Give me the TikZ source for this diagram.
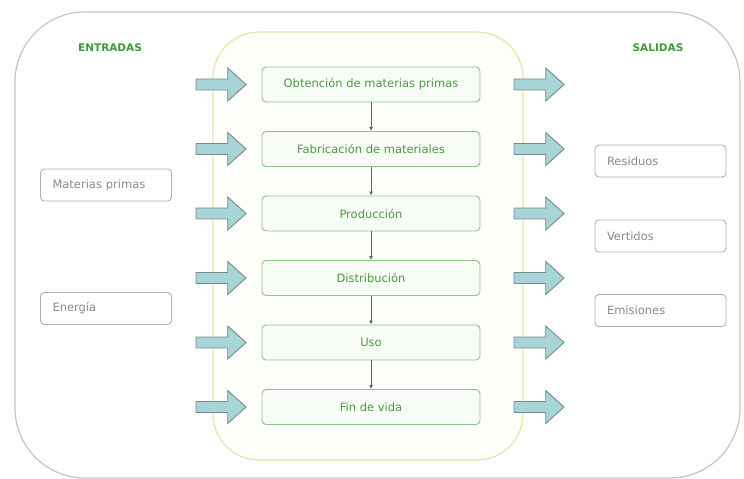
\documentclass[tikz,border=0pt]{standalone}
\usepackage{fontspec}
\setmainfont{DejaVu Sans}
\usetikzlibrary{arrows.meta,positioning,shapes.arrows}

\definecolor{frameline}{HTML}{C4C4C4}
\definecolor{coreline}{HTML}{E4E6A8}
\definecolor{corefill}{HTML}{FFFFFB}
\definecolor{stageline}{HTML}{8CC48C}
\definecolor{stagefill}{HTML}{F8FCF6}
\definecolor{stagetext}{HTML}{4E9A44}
\definecolor{sideline}{HTML}{B0B0B0}
\definecolor{sidetext}{HTML}{8A8A8A}
\definecolor{flowfill}{HTML}{A9D4D7}
\definecolor{flowline}{HTML}{6F8C8E}
\definecolor{titlegreen}{HTML}{3E9A3A}

\begin{document}
\begin{tikzpicture}[x=1pt, y=-1pt,
    frame/.style={draw=frameline, line width=1.2pt, rounded corners=70pt},
    core/.style={draw=coreline, fill=corefill, line width=1.2pt, rounded corners=46pt},
    stage/.style={draw=stageline, fill=stagefill, rounded corners=4pt, line width=0.9pt, minimum width=218pt, minimum height=35pt, text=stagetext, font=\fontsize{11.5}{13}\selectfont},
    side/.style={draw=sideline, fill=white, rounded corners=4pt, line width=0.9pt, inner xsep=12pt, text width=107pt, minimum height=32pt, align=left, text=sidetext, font=\fontsize{11.5}{13}\selectfont},
    flow/.style={single arrow, draw=flowline, fill=flowfill, line width=0.9pt, inner xsep=0pt, inner ysep=5pt, minimum height=50pt, minimum width=33pt, single arrow head extend=11pt, single arrow tip angle=84},
    title/.style={text=titlegreen, font=\fontsize{10.5}{12}\selectfont\bfseries},
    arr/.style={-{Latex[length=4pt,width=4pt]}, draw=black!60, line width=1pt}
]
\useasboundingbox (0,0) rectangle (744,479);
\node[frame, minimum width=725pt, minimum height=466pt] (all) at (377.5,245) {};
\node[core, minimum width=310pt, minimum height=428pt] (cycle) at (368,246) {};
\node[title] (inputs) at (110,48) {ENTRADAS};
\node[title] (outputs) at (658,48) {SALIDAS};
% etapas del ciclo de vida
\node[stage] (raw) at (371,84.5) {Obtención de materias primas};
\node[stage] (make) at (371,149) {Fabricación de materiales};
\node[stage] (prod) at (371,213.5) {Producción};
\node[stage] (dist) at (371,278) {Distribución};
\node[stage] (use) at (371,342.5) {Uso};
\node[stage] (eol) at (371,407) {Fin de vida};
\draw[arr] (raw) -- (make);
\draw[arr] (make) -- (prod);
\draw[arr] (prod) -- (dist);
\draw[arr] (dist) -- (use);
\draw[arr] (use) -- (eol);
% entradas
\node[side] (mat) at (106,185) {Materias primas};
\node[side] (ener) at (106,308.5) {Energía};
\node[flow] (in1) at (218,84.5) {};
\node[flow] (in2) at (218,149) {};
\node[flow] (in3) at (218,213.5) {};
\node[flow] (in4) at (218,278) {};
\node[flow] (in5) at (218,342.5) {};
\node[flow] (in6) at (218,407) {};
% salidas
\node[flow] (out1) at (536,84.5) {};
\node[flow] (out2) at (536,149) {};
\node[flow] (out3) at (536,213.5) {};
\node[flow] (out4) at (536,278) {};
\node[flow] (out5) at (536,342.5) {};
\node[flow] (out6) at (536,407) {};
\node[side] (res) at (660.5,161) {Residuos};
\node[side] (vert) at (660.5,236) {Vertidos};
\node[side] (emis) at (660.5,310.5) {Emisiones};
\end{tikzpicture}
\end{document}
